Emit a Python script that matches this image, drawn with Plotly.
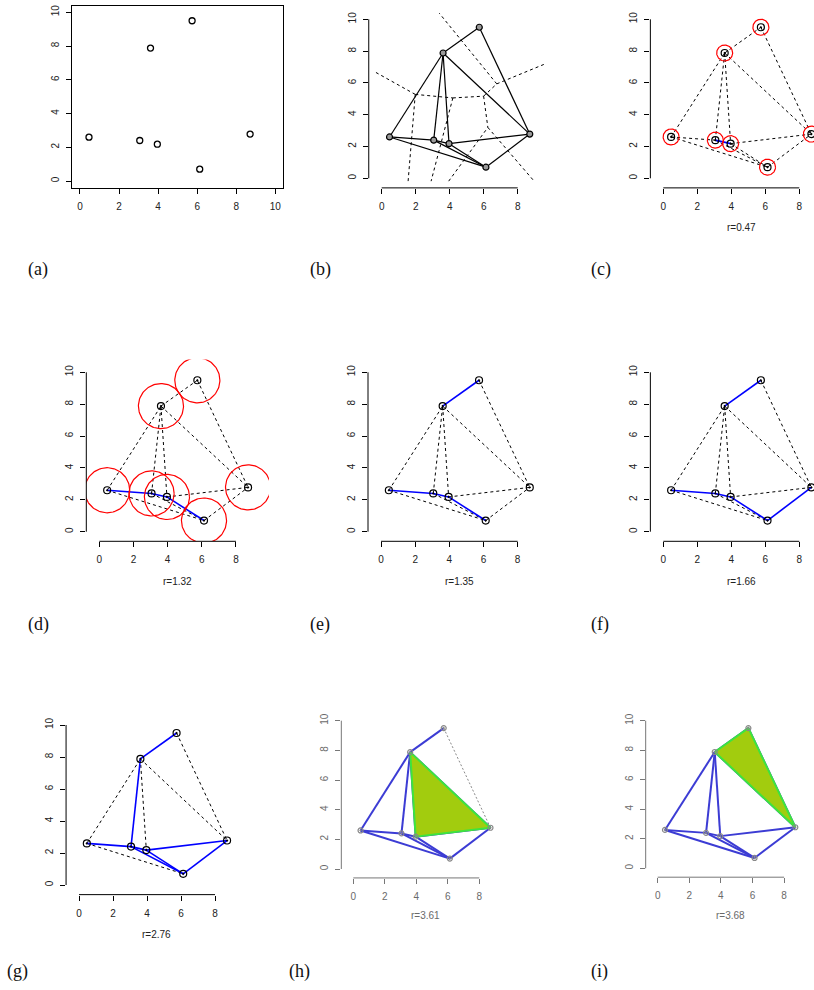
import numpy as np
import plotly.graph_objects as go

W, H = 814, 990

# point cloud
pts_x = [0.46, 3.06, 3.61, 3.96, 5.74, 6.13, 8.71]
pts_y = [2.60, 2.40, 7.88, 2.18, 9.50, 0.70, 2.78]

# Delaunay triangles of the cloud (vertex indices)
triangles = [(0, 1, 2), (0, 1, 5), (1, 2, 3), (1, 3, 5), (2, 3, 6), (3, 5, 6), (2, 4, 6)]

# filtration steps shown in panels (c)..(i)
radii = [0.47, 1.32, 1.35, 1.66, 2.76, 3.61, 3.68]
draw_balls = [True, True, False, False, False, False, False]
filled_tri = [None, None, None, None, None, (2, 3, 6), (2, 4, 6)]
faded = [False, False, False, False, False, True, True]

panel_tags = ["(a)", "(b)", "(c)", "(d)", "(e)", "(f)", "(g)", "(h)", "(i)"]
ticks_a = [0, 2, 4, 6, 8, 10]
ticks_x = [0, 2, 4, 6, 8]
ticks_y = [0, 2, 4, 6, 8, 10]

# panel frames: pixel of x=0, px per x unit, pixel of y=0, px per y unit
frames = [
    (80.0, 19.53, 181.0, 16.87),
    (381.7, 17.0, 178.3, 15.9),
    (663.3, 17.0, 178.3, 15.9),
    (99.3, 17.08, 531.7, 15.94),
    (381.0, 17.08, 531.7, 15.94),
    (663.3, 17.0, 531.7, 15.94),
    (79.0, 17.0, 885.0, 16.0),
    (353.3, 15.75, 869.0, 14.83),
    (657.7, 15.8, 868.3, 14.76),
]
tag_pos = [(26, 269), (308, 269), (589, 269), (26, 624), (308, 624), (589, 624),
           (5, 971), (287, 971), (589, 971)]
sub_offset = [0, 0, 40, 40, 40, 40, 40, 38, 38]

X = np.array(pts_x)
Y = np.array(pts_y)


def padded(v, f):
    lo, hi = float(np.min(v)), float(np.max(v))
    d = (hi - lo) * f
    return lo - d, hi + d


# enclosing window for the tessellation (10% beyond the points), plot limits 4% beyond it
rw_x = padded(X, 0.10)
rw_y = padded(Y, 0.10)
lim_x = padded(np.array(rw_x), 0.04)
lim_y = padded(np.array(rw_y), 0.04)


def circumcenter(i, j, k):
    ax, ay, bx, by, cx, cy = X[i], Y[i], X[j], Y[j], X[k], Y[k]
    d = 2 * (ax * (by - cy) + bx * (cy - ay) + cx * (ay - by))
    a2, b2, c2 = ax * ax + ay * ay, bx * bx + by * by, cx * cx + cy * cy
    ux = (a2 * (by - cy) + b2 * (cy - ay) + c2 * (ay - by)) / d
    uy = (a2 * (cx - bx) + b2 * (ax - cx) + c2 * (bx - ax)) / d
    return np.array([ux, uy])


def clip_segment(p, q, box):
    x0, x1, y0, y1 = box
    d = q - p
    t0, t1 = 0.0, 1.0
    for pk, qk in ((-d[0], p[0] - x0), (d[0], x1 - p[0]), (-d[1], p[1] - y0), (d[1], y1 - p[1])):
        if pk == 0:
            if qk < 0:
                return None
        else:
            t = qk / pk
            if pk < 0:
                t0 = max(t0, t)
            else:
                t1 = min(t1, t)
    if t0 > t1:
        return None
    return p + t0 * d, p + t1 * d


# edges of the triangulation and the triangles on each side
edge_tris = {}
for t in triangles:
    for a, b in ((t[0], t[1]), (t[1], t[2]), (t[0], t[2])):
        edge_tris.setdefault((min(a, b), max(a, b)), []).append(t)
edges = sorted(edge_tris)
edge_len = {e: float(np.hypot(X[e[0]] - X[e[1]], Y[e[0]] - Y[e[1]])) for e in edges}

# Voronoi tessellation (dual of the triangulation), clipped to the window
box = (rw_x[0], rw_x[1], rw_y[0], rw_y[1])
voronoi = []
for (a, b), ts in edge_tris.items():
    c1 = circumcenter(*ts[0])
    if len(ts) == 2:
        c2 = circumcenter(*ts[1])
    else:
        v = [k for k in ts[0] if k not in (a, b)][0]
        e = np.array([X[b] - X[a], Y[b] - Y[a]])
        n = np.array([e[1], -e[0]])
        if np.dot(n, [X[v] - X[a], Y[v] - Y[a]]) > 0:
            n = -n
        c2 = c1 + n / np.linalg.norm(n) * 100
    seg = clip_segment(c1, c2, box)
    if seg is not None:
        voronoi.append(seg)


def polyline(pairs):
    xs, ys = [], []
    for p, q in pairs:
        xs += [p[0], q[0], None]
        ys += [p[1], q[1], None]
    return xs, ys


def edge_pairs(es):
    return [((X[a], Y[a]), (X[b], Y[b])) for a, b in es]


fig = go.Figure()
layout = dict(width=W, height=H, margin=dict(l=0, r=0, t=0, b=0),
              paper_bgcolor="white", plot_bgcolor="white", showlegend=False)
shapes, annotations = [], []

for k in range(1, 10):
    x0p, sx, y0p, sy = frames[k - 1]
    if k == 1:
        xlo, xhi, ylo, yhi = -0.4, 10.4, -0.4, 10.4
    else:
        xlo, xhi = lim_x
        ylo, yhi = lim_y
    xmid = (xlo + xhi) / 2
    left, right = x0p + xlo * sx, x0p + xhi * sx
    if right > W:
        xhi = (W - x0p) / sx
        right = W
    bottom, top = y0p - ylo * sy, y0p - yhi * sy
    fade = k >= 3 and faded[k - 3]
    tcol = "#6a6a6a" if fade else "#222222"
    lcol = "#777777" if fade else "#000000"

    xa = "xaxis" if k == 1 else f"xaxis{k}"
    ya = "yaxis" if k == 1 else f"yaxis{k}"
    xr = "x" if k == 1 else f"x{k}"
    yr = "y" if k == 1 else f"y{k}"
    tfont = dict(family="Liberation Sans, Arial, sans-serif", size=10, color=tcol)
    common = dict(showgrid=False, zeroline=False, ticks="outside", ticklen=5, tickwidth=1,
                  tickcolor=lcol, tickfont=tfont, fixedrange=True)
    layout[xa] = dict(common, domain=[left / W, right / W], range=[xlo, xhi], anchor=yr,
                      tickvals=ticks_a if k == 1 else ticks_x, ticklabelstandoff=4)
    layout[ya] = dict(common, domain=[1 - bottom / H, 1 - top / H], range=[ylo, yhi], anchor=xr,
                      tickvals=ticks_y, tickangle=-90, ticklabelstandoff=3)
    if k == 1:
        for ax in (xa, ya):
            layout[ax].update(showline=True, mirror=True, linecolor="black", linewidth=1)
    else:
        layout[xa]["showline"] = False
        layout[ya]["showline"] = False
        shapes.append(dict(type="line", xref=xr, yref=f"{yr} domain", x0=ticks_x[0], x1=ticks_x[-1],
                           y0=0, y1=0, line=dict(color=lcol, width=1)))
        shapes.append(dict(type="line", xref=f"{xr} domain", yref=yr, x0=0, x1=0,
                           y0=ticks_y[0], y1=ticks_y[-1], line=dict(color=lcol, width=1)))

    tx, ty = tag_pos[k - 1]
    annotations.append(dict(text=panel_tags[k - 1], xref="paper", yref="paper", x=tx / W, y=1 - ty / H,
                            xanchor="left", yanchor="middle", showarrow=False,
                            font=dict(family="Liberation Serif, DejaVu Serif, serif", size=18, color="#111111")))

    if k == 1:
        fig.add_trace(go.Scatter(x=pts_x, y=pts_y, mode="markers", xaxis=xr, yaxis=yr,
                                 marker=dict(symbol="circle-open", size=6, color="black",
                                             line=dict(width=1.3, color="black"))))
        continue

    if k == 2:
        vx, vy = polyline(voronoi)
        fig.add_trace(go.Scatter(x=vx, y=vy, mode="lines", xaxis=xr, yaxis=yr,
                                 line=dict(color="black", width=1, dash="3px,3px")))
        dx, dy = polyline(edge_pairs(edges))
        fig.add_trace(go.Scatter(x=dx, y=dy, mode="lines", xaxis=xr, yaxis=yr,
                                 line=dict(color="black", width=1.2)))
        fig.add_trace(go.Scatter(x=pts_x, y=pts_y, mode="markers", xaxis=xr, yaxis=yr,
                                 marker=dict(symbol="circle", size=6, color="#9a9a9a",
                                             line=dict(width=1.2, color="black"))))
        continue

    s = k - 3
    r = radii[s]
    on = [e for e in edges if edge_len[e] <= 2 * r]
    off = [e for e in edges if edge_len[e] > 2 * r]

    if off:
        ox, oy = polyline(edge_pairs(off))
        fig.add_trace(go.Scatter(x=ox, y=oy, mode="lines", xaxis=xr, yaxis=yr,
                                 line=dict(color="#8a8a8a" if fade else "black", width=1,
                                           dash="2px,2px" if fade else "3px,3px")))
    if on:
        bx, by = polyline(edge_pairs(on))
        fig.add_trace(go.Scatter(x=bx, y=by, mode="lines", xaxis=xr, yaxis=yr,
                                 line=dict(color="#3c3cd4" if fade else "#0000ff", width=2 if fade else 1.6)))
    if filled_tri[s] is not None:
        t = list(filled_tri[s]) + [filled_tri[s][0]]
        fig.add_trace(go.Scatter(x=[X[i] for i in t], y=[Y[i] for i in t], mode="lines",
                                 xaxis=xr, yaxis=yr, fill="toself", fillcolor="#a2cc0e",
                                 line=dict(color="#3ee43e", width=2)))
    if draw_balls[s]:
        th = np.linspace(0, 2 * np.pi, 121)
        cx, cy = [], []
        for px, py in zip(pts_x, pts_y):
            cx += list(px + r * np.cos(th)) + [None]
            cy += list(py + r * (sx / sy) * np.sin(th)) + [None]
        fig.add_trace(go.Scatter(x=cx, y=cy, mode="lines", xaxis=xr, yaxis=yr,
                                 line=dict(color="#ff0000", width=1.2)))
    fig.add_trace(go.Scatter(x=pts_x, y=pts_y, mode="markers", xaxis=xr, yaxis=yr,
                             marker=dict(symbol="circle-open-dot", size=5 if fade else 7,
                                         color="#888888" if fade else "black",
                                         line=dict(width=1.2))))
    annotations.append(dict(text=f"r={r:.2f}", xref=xr, yref=f"{yr} domain", x=xmid, y=0,
                            yshift=-sub_offset[k - 1], xanchor="center", yanchor="middle",
                            showarrow=False, font=dict(family="Liberation Sans, Arial, sans-serif",
                                                       size=10, color=tcol)))

layout["shapes"] = shapes
layout["annotations"] = annotations
fig.update_layout(**layout)
fig.write_html("out.html")
